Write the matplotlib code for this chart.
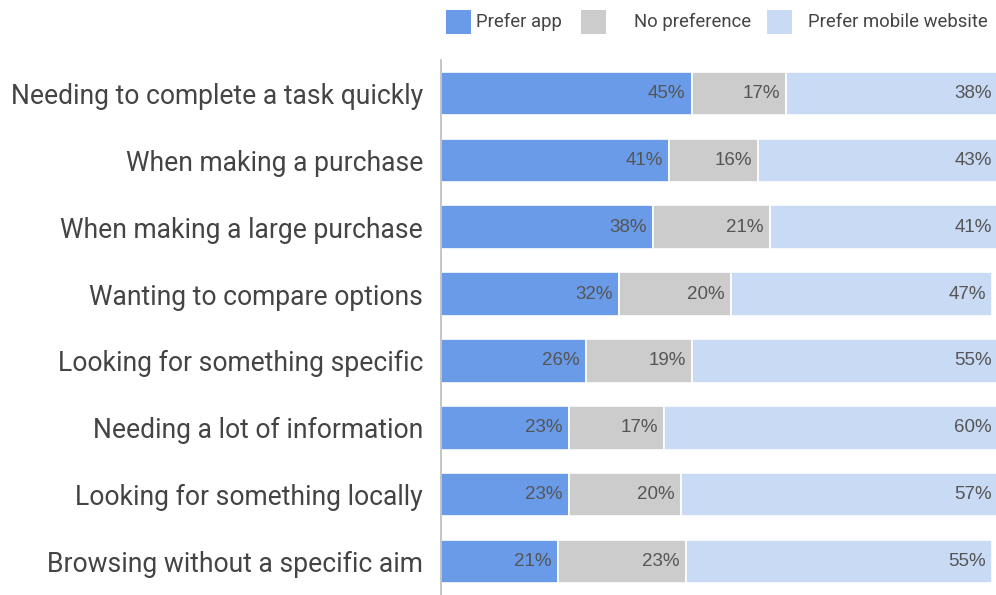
import matplotlib
matplotlib.use("Agg")
import matplotlib.pyplot as plt
from matplotlib.patches import Rectangle

categories = [
    "Needing to complete a task quickly",
    "When making a purchase",
    "When making a large purchase",
    "Wanting to compare options",
    "Looking for something specific",
    "Needing a lot of information",
    "Looking for something locally",
    "Browsing without a specific aim",
]
prefer_app = [45, 41, 38, 32, 26, 23, 23, 21]
no_preference = [17, 16, 21, 20, 19, 17, 20, 23]
prefer_web = [38, 43, 41, 47, 55, 60, 57, 55]

series_names = ["Prefer app", "No preference", "Prefer mobile website"]
colors = ["#6a9be8", "#cccccc", "#c9daf5"]
text_color = "#444444"
value_color = "#555555"

W, H = 996, 595
fig = plt.figure(figsize=(W / 100, H / 100), dpi=100)
ax = fig.add_axes([441 / W, 0 / H, 557 / W, 535 / H])

n = len(categories)
ypos = list(range(n))
left = [0] * n
for vals, col in zip([prefer_app, no_preference, prefer_web], colors):
    ax.barh(ypos, vals, left=left, height=0.65, color=col,
            edgecolor="white", linewidth=1.2)
    for y, v, l in zip(ypos, vals, left):
        ax.text(l + v - 1.1, y, f"{v}%", ha="right", va="center",
                fontsize=13.5, color=value_color, family="Liberation Sans")
    left = [a + b for a, b in zip(left, vals)]

ax.set_xlim(0, 100)
ax.set_ylim(n - 0.5, -0.5)
ax.set_xticks([])
ax.set_yticks(ypos)
ax.set_yticklabels(categories, fontsize=19.1, family="Roboto", color=text_color)
ax.tick_params(axis="y", length=0, pad=13)
for s in ["top", "right", "bottom"]:
    ax.spines[s].set_visible(False)
ax.spines["left"].set_color("#bbbbbb")
ax.spines["left"].set_linewidth(1.2)

# legend drawn in figure pixel space
legend_items = [(446, 476), (581, 634), (767, 808)]
for (bx, tx), name, col in zip(legend_items, series_names, colors):
    fig.add_artist(Rectangle((bx / W, (H - 34) / H), 25 / W, 24 / H,
                             transform=fig.transFigure, color=col, lw=0))
    fig.text(tx / W, (H - 22) / H, name, ha="left", va="center",
             fontsize=13.3, family="Roboto", color=text_color)

fig.savefig("out.png", dpi=100)
